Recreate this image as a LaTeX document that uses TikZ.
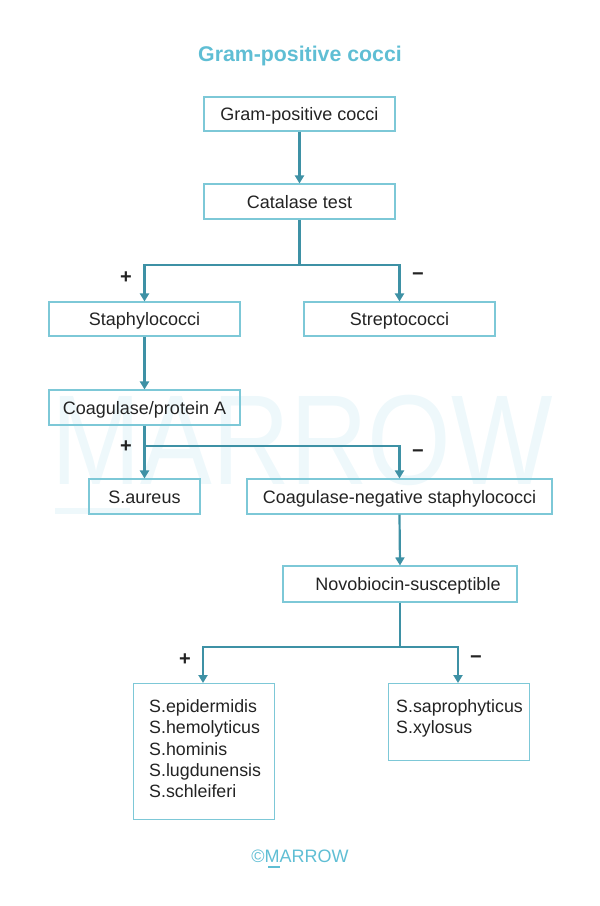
\documentclass[tikz,border=0pt]{standalone}
\usepackage{fontspec}
\setmainfont{Liberation Sans}
\usetikzlibrary{arrows.meta}
\definecolor{titlec}{RGB}{95,190,212}
\definecolor{boxc}{RGB}{125,200,215}
\definecolor{linec}{RGB}{62,145,165}
\definecolor{wmc}{RGB}{238,248,251}
\definecolor{txtc}{RGB}{35,35,35}
\tikzset{
  box/.style={draw=boxc, line width=1.1pt, text=txtc, font=\fontsize{18}{21}\selectfont, inner sep=0pt, text height=13.4pt, text depth=0pt},
  conn/.style={draw=linec, line width=2.2pt},
  arr/.style={conn, -{Triangle[length=8pt,width=9pt]}},
  sign/.style={text=txtc, font=\fontsize{20}{22}\selectfont\bfseries},
  listtxt/.style={anchor=north west, inner sep=0, align=left, text=txtc, font=\fontsize{17.8}{21.2}\selectfont},
}
\begin{document}
\begin{tikzpicture}[x=1pt,y=-1pt]
\useasboundingbox (0,0) rectangle (600,906);
% watermark
\node[text=wmc, font=\fontsize{128}{128}\selectfont, xscale=0.84, inner sep=0] (wm) at (302,440) {MARROW};
\fill[wmc] (55,508) rectangle (130,514);
% title
\node[text=titlec, font=\fontsize{21.3}{24}\selectfont\bfseries] (title) at (300,56) {Gram-positive cocci};
% boxes
\node[box, minimum width=191pt, minimum height=34pt] (gpc) at (299.5,114) {Gram-positive cocci};
\node[box, minimum width=191pt, minimum height=35pt] (cat) at (299.5,201.5) {Catalase test};
\node[box, minimum width=191pt, minimum height=34pt] (sta) at (144.5,319) {Staphylococci};
\node[box, minimum width=191pt, minimum height=34pt] (str) at (399.5,319) {Streptococci};
\node[box, minimum width=191pt, minimum height=35pt] (coa) at (144.5,407.5) {Coagulase/protein A};
\node[box, minimum width=111pt, minimum height=35pt] (sau) at (144.5,496.5) {S.aureus};
\node[box, minimum width=305pt, minimum height=35pt] (cns) at (399.5,496.5) {Coagulase-negative staphylococci};
\node[box, minimum width=234pt, minimum height=36pt, text width=234pt, align=center] (nov) at (400,584) {\hspace*{16pt}Novobiocin-susceptible};
\node[box, minimum width=141pt, minimum height=136pt, anchor=north west] (pos) at (133,683) {};
\node[box, minimum width=141pt, minimum height=77pt, anchor=north west] (neg) at (388,683) {};
% box texts
\node[listtxt] (post) at (149,699.5) {S.epidermidis\\S.hemolyticus\\S.hominis\\S.lugdunensis\\S.schleiferi};
\node[listtxt] (negt) at (396,699.5) {S.saprophyticus\\S.xylosus};
% connectors
\draw[arr] (gpc.south) -- (cat.north);
\coordinate (j1) at (299.5,265);
\draw[conn] (cat.south) -- (j1);
\draw[arr] (j1) -| (sta.north);
\draw[arr] (j1) -| (str.north);
\draw[arr] (sta.south) -- (coa.north);
\coordinate (j2) at (144.5,446);
\draw[conn] (coa.south) -- (j2);
\draw[arr] (j2) -- (sau.north);
\draw[arr] (j2) -| (cns.north);
\draw[arr] (cns.south) -- (nov.north);
\coordinate (j3) at (400,647);
\coordinate (pa) at (203,683);
\coordinate (na) at (458,683);
\draw[conn] (nov.south) -- (j3);
\draw[arr] (j3) -| (pa);
\draw[arr] (j3) -| (na);
% signs
\node[sign] (s1) at (126,278) {+};
\node[sign] (s2) at (418,277) {\textminus};
\node[sign] (s3) at (126,447) {+};
\node[sign] (s4) at (418,454) {\textminus};
\node[sign] (s5) at (185,660) {+};
\node[sign] (s6) at (476,660) {\textminus};
% footer
\node[text=titlec, font=\fontsize{18}{20}\selectfont, inner sep=0] (foot) at (300,856) {\textcopyright MARROW};
\fill[titlec] (268,866) rectangle (280,867.5);
\end{tikzpicture}
\end{document}
